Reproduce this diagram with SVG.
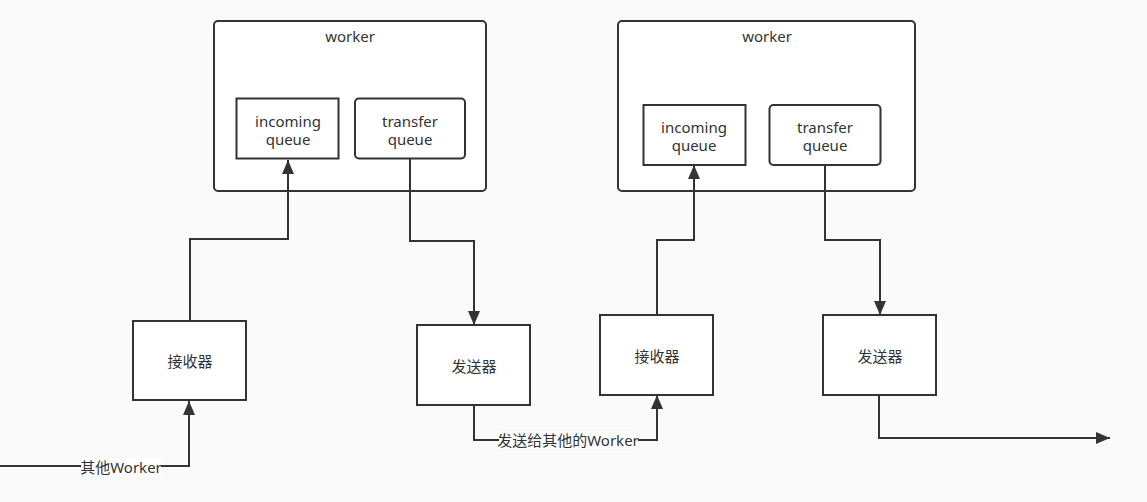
<svg xmlns="http://www.w3.org/2000/svg" width="1147" height="502" viewBox="0 0 1147 502">
<style>
.bg{fill:#fafafa}
.box{fill:#ffffff;stroke:#333333;stroke-width:2}
.t{font-family:"Noto Sans","Noto Sans CJK SC",sans-serif;font-size:15px;fill:#333333;text-anchor:middle}
.c{fill:none;stroke:#333333;stroke-width:2}
.lbl{fill:#ffffff}
</style>
<defs>
<marker id="arr" markerUnits="userSpaceOnUse" markerWidth="16" markerHeight="14" refX="15" refY="7" orient="auto">
<path d="M1,1 L15,7 L1,13 Z" fill="#333333"/>
</marker>
</defs>
<rect class="bg" x="0" y="0" width="1147" height="502"/>
<g id="worker1">
<rect class="box" x="214" y="21" width="272" height="170" rx="4"/>
<text class="t" x="350" y="42">worker</text>
</g>
<g id="incoming1">
<rect class="box" x="236.5" y="98.5" width="102" height="60"/>
<text class="t" x="288" y="127">incoming</text>
<text class="t" x="288" y="145">queue</text>
</g>
<g id="transfer1">
<rect class="box" x="355" y="98.5" width="110" height="60" rx="4"/>
<text class="t" x="410" y="127">transfer</text>
<text class="t" x="410" y="145">queue</text>
</g>
<g id="worker2">
<rect class="box" x="618" y="21" width="297" height="170" rx="4"/>
<text class="t" x="767" y="42">worker</text>
</g>
<g id="incoming2">
<rect class="box" x="643.5" y="105" width="102" height="60"/>
<text class="t" x="694" y="133">incoming</text>
<text class="t" x="694" y="151">queue</text>
</g>
<g id="transfer2">
<rect class="box" x="769.5" y="105" width="111" height="60" rx="4"/>
<text class="t" x="825" y="133">transfer</text>
<text class="t" x="825" y="151">queue</text>
</g>
<g id="receiver1">
<rect class="box" x="133" y="321" width="113" height="79"/>
<text class="t" x="190" y="367">接收器</text>
</g>
<g id="sender1">
<rect class="box" x="417" y="325" width="113" height="80"/>
<text class="t" x="474" y="372">发送器</text>
</g>
<g id="receiver2">
<rect class="box" x="600" y="315" width="113" height="80"/>
<text class="t" x="657" y="362">接收器</text>
</g>
<g id="sender2">
<rect class="box" x="823" y="315" width="113" height="80"/>
<text class="t" x="880" y="362">发送器</text>
</g>
<g id="connectors">
<path class="c" d="M0,466 H189 V401" marker-end="url(#arr)"/>
<rect class="lbl" x="81" y="458" width="80" height="18"/>
<text class="t" x="121" y="473">其他Worker</text>
<path class="c" d="M190,321 V239 H288 V160" marker-end="url(#arr)"/>
<path class="c" d="M410,159 V241 H474 V325" marker-end="url(#arr)"/>
<path class="c" d="M474,405 V440 H657 V395" marker-end="url(#arr)"/>
<rect class="lbl" x="499" y="431" width="139" height="18"/>
<text class="t" x="568" y="446">发送给其他的Worker</text>
<path class="c" d="M657,315 V240 H694 V165" marker-end="url(#arr)"/>
<path class="c" d="M825,165 V240 H880 V315" marker-end="url(#arr)"/>
<path class="c" d="M879,395 V438 H1110" marker-end="url(#arr)"/>
</g>
</svg>
